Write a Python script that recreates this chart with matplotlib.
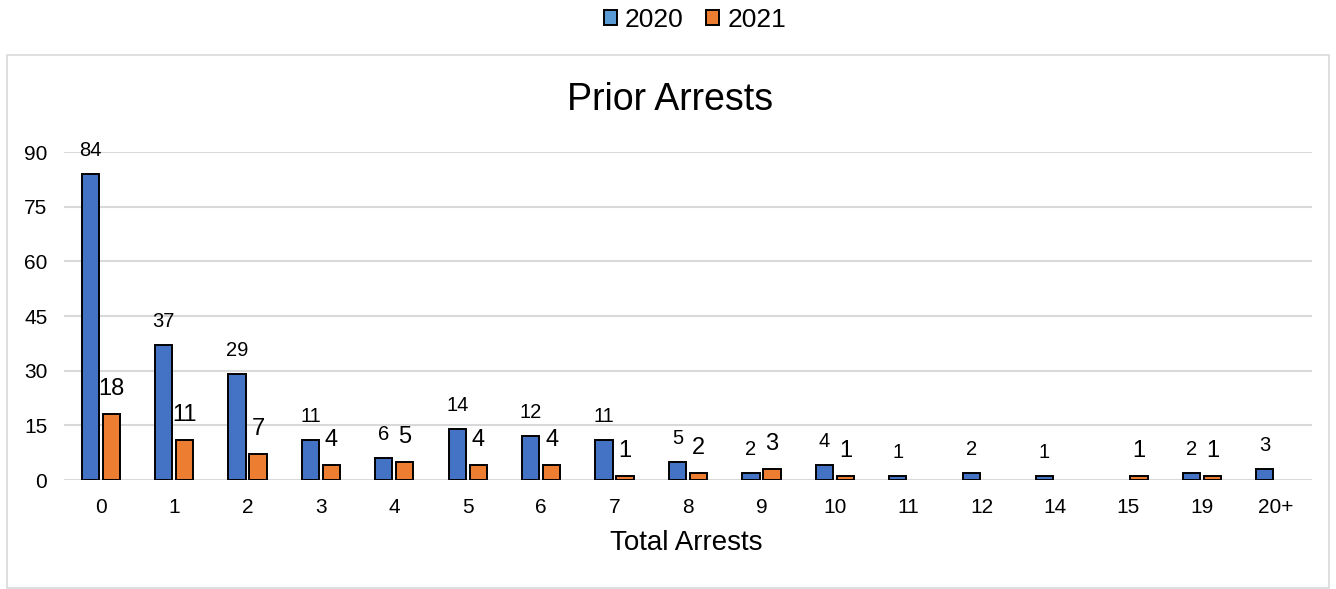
import matplotlib
matplotlib.use("Agg")
import matplotlib.pyplot as plt
from matplotlib.patches import Rectangle
import numpy as np

plt.rcParams['font.family'] = ['Liberation Sans', 'DejaVu Sans']

categories = ["0", "1", "2", "3", "4", "5", "6", "7", "8", "9", "10", "11", "12", "14", "15", "19", "20+"]
values_2020 = [84, 37, 29, 11, 6, 14, 12, 11, 5, 2, 4, 1, 2, 1, 0, 2, 3]
values_2021 = [18, 11, 7, 4, 5, 4, 4, 1, 2, 3, 1, 0, 0, 0, 1, 1, 0]
yticks = [0, 15, 30, 45, 60, 75, 90]

W, H = 1336, 589
fig = plt.figure(figsize=(W / 100, H / 100), dpi=100)

# outer chart border
fig.patches.append(Rectangle((7 / W, 1 / H), (1329 - 7) / W, (588 - 55) / H,
                             transform=fig.transFigure, fill=False,
                             edgecolor="#d9d9d9", linewidth=1.2))

ax = fig.add_axes([64 / W, (H - 480) / H, 1248 / W, 328 / H])
x = np.arange(len(categories))
bw = 0.235
off = 0.143
blue = "#4472C4"
orange = "#ED7D31"
lw20 = [1.4 if v > 0 else 0 for v in values_2020]
lw21 = [1.4 if v > 0 else 0 for v in values_2021]
ax.bar(x - off, values_2020, bw, color=blue, edgecolor="black", linewidth=lw20, zorder=3)
ax.bar(x + off, values_2021, bw, color=orange, edgecolor="black", linewidth=lw21, zorder=3)

for xi, v in zip(x, values_2020):
    if v > 0:
        ax.annotate(str(v), (xi - off, v), xytext=(0, 17), textcoords="offset points",
                    ha="center", va="center", fontsize=14.5)
for xi, v in zip(x, values_2021):
    if v > 0:
        ax.annotate(str(v), (xi + off, v), xytext=(0, 18), textcoords="offset points",
                    ha="center", va="center", fontsize=17)

ax.set_xlim(-0.5, len(categories) - 0.5)
ax.set_ylim(0, 90)
ax.set_yticks(yticks)
ax.set_xticks(x)
ax.set_xticklabels(categories)
ax.tick_params(axis="both", length=0, labelsize=15)
ax.tick_params(axis="x", pad=13)
ax.tick_params(axis="y", pad=12)
ax.yaxis.grid(True, color="#d9d9d9", linewidth=1.5, zorder=0)
ax.set_axisbelow(True)
for s in ax.spines.values():
    s.set_visible(False)

fig.text(686 / W, 1 - 543 / H, "Total Arrests", ha="center", va="center", fontsize=20)
fig.text(670 / W, 1 - 100 / H, "Prior Arrests", ha="center", va="center", fontsize=27)

h1 = Rectangle((0, 0), 1, 1, facecolor="#5B9BD5", edgecolor="black", linewidth=1.4)
h2 = Rectangle((0, 0), 1, 1, facecolor=orange, edgecolor="black", linewidth=1.4)
fig.legend(handles=[h1, h2], labels=["2020", "2021"], loc="center",
           bbox_to_anchor=(695 / W, 1 - 20 / H), ncol=2, frameon=False,
           fontsize=19, handlelength=0.5, handleheight=0.5, handletextpad=0.3,
           columnspacing=0.85)

fig.savefig("out.png", dpi=100)
